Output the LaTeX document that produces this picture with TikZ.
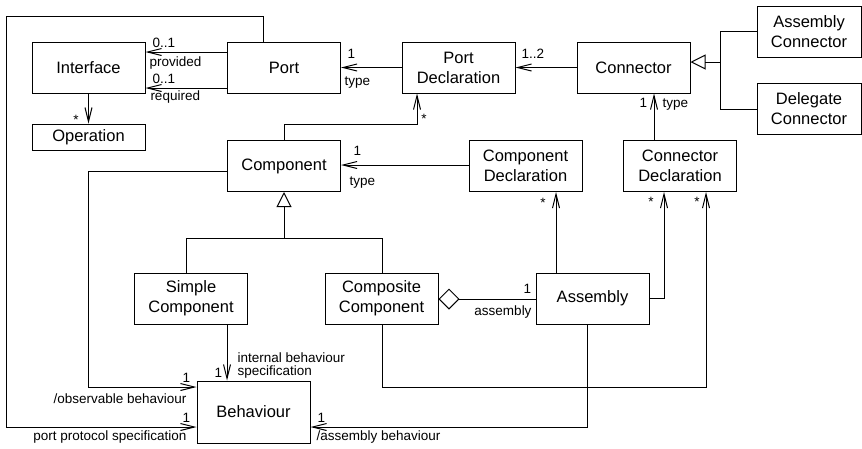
\documentclass[tikz,border=0pt]{standalone}
\usepackage{fontspec}
\setmainfont{Liberation Sans}
\usetikzlibrary{arrows.meta}
\begin{document}
\begin{tikzpicture}[x=1pt,y=-1pt,line width=1pt,
  box/.style={draw, line width=1pt, minimum width=113pt, minimum height=51pt, inner sep=0pt, align=center, font=\fontsize{16.5}{20}\selectfont},
  lbl/.style={inner sep=0pt, font=\fontsize{13.5}{15}\selectfont},
  nav/.style={-{Straight Barb[length=14pt,width=7pt]}},
  gen/.style={-{Triangle[open,length=15pt,width=15pt]}},
  agg/.style={-{Diamond[open,length=21pt,width=21pt]}}]
\useasboundingbox (0,0) rectangle (862,448);
% boxes
\node[box] (iface) at (88.5,67.5) {Interface};
\node[box] (port) at (284,67.5) {Port};
\node[box] (pdecl) at (458.5,67.5) {Port\\Declaration};
\node[box] (conn) at (633.5,67.5) {Connector};
\node[box, minimum width=104pt] (aconn) at (809,31.5) {Assembly\\Connector};
\node[box, minimum width=104pt] (dconn) at (809,109) {Delegate\\Connector};
\node[box, minimum height=26pt] (op) at (88.5,137) {Operation};
\node[box] (comp) at (284,166) {Component};
\node[box] (cdecl) at (525.5,166) {Component\\Declaration};
\node[box] (kdecl) at (680,166) {Connector\\Declaration};
\node[box] (simple) at (191,298.5) {Simple\\Component};
\node[box] (composite) at (381.5,298.5) {Composite\\Component};
\node[box] (asm) at (592.5,298.5) {Assembly};
\node[box, minimum height=62pt] (beh) at (253.5,412) {Behaviour};
% connectors
\draw[nav] (port.west |- 0,52) -- (iface.east |- 0,52);
\draw[nav] (port.west |- 0,88) -- (iface.east |- 0,88);
\draw[nav] (iface.south) -- (op.north);
\draw[nav] (pdecl.west) -- (port.east);
\draw[nav] (conn.west) -- (pdecl.east);
\draw[nav] (comp.north) |- (417,124) -- (pdecl.south -| 417,0);
\coordinate (g1) at (720,62);
\draw (aconn.west) -| (g1);
\draw (dconn.west) -| (g1);
\draw[gen] (g1) -- (conn.east |- g1);
\draw[nav] (kdecl.north -| 654,0) -- (conn.south -| 654,0);
\draw[nav] (cdecl.west |- 0,165) -- (comp.east |- 0,165);
\coordinate (g2) at (284,238);
\draw (simple.north -| 186,0) |- (g2);
\draw (composite.north -| 382,0) |- (g2);
\draw[gen] (g2) -- (comp.south);
\draw[nav] (comp.west |- 0,171) -| (88,387) -- (beh.west |- 0,387);
\draw[nav] (port.north -| 263,0) |- (6,16) |- (beh.west |- 0,427);
\draw[nav] (simple.south -| 227,0) -- (beh.north -| 227,0);
\draw[agg] (asm.west |- 0,299) -- (composite.east |- 0,299);
\draw[nav] (asm.north -| 556,0) -- (cdecl.south -| 556,0);
\draw[nav] (asm.east |- 0,298) -| (kdecl.south -| 664,0);
\draw[nav] (composite.south -| 382,0) |- (706,387) -- (kdecl.south -| 706,0);
\draw[nav] (asm.south -| 587,0) |- (beh.east |- 0,427);
% labels
\node[lbl, anchor=base west] (l1) at (152,47) {0..1};
\node[lbl, anchor=base west] (l2) at (149,66) {provided};
\node[lbl, anchor=base west] (l3) at (152,83) {0..1};
\node[lbl, anchor=base west] (l4) at (150,100) {required};
\node[lbl, anchor=base] (l5) at (76,124) {*};
\node[lbl, anchor=base west] (l6) at (347,58) {1};
\node[lbl, anchor=base west] (l7) at (344,85) {type};
\node[lbl, anchor=base west] (l8) at (521,58) {1..2};
\node[lbl, anchor=base] (l9) at (424,123) {*};
\node[lbl, anchor=base west] (l10) at (639,107) {1};
\node[lbl, anchor=base west] (l11) at (662,107) {type};
\node[lbl, anchor=base west] (l12) at (353,155) {1};
\node[lbl, anchor=base west] (l13) at (349,185) {type};
\node[lbl, anchor=base] (l14) at (543,207) {*};
\node[lbl, anchor=base] (l15) at (651,206) {*};
\node[lbl, anchor=base] (l16) at (697,206) {*};
\node[lbl, anchor=base west] (l17) at (523,293) {1};
\node[lbl, anchor=base east] (l18) at (532,315) {assembly};
\node[lbl, anchor=base west] (l19) at (237,362) {internal behaviour};
\node[lbl, anchor=base west] (l20) at (237,375) {specification};
\node[lbl, anchor=base west] (l21) at (214,377) {1};
\node[lbl, anchor=base west] (l22) at (182,382) {1};
\node[lbl, anchor=base east] (l23) at (187,403) {/observable behaviour};
\node[lbl, anchor=base west] (l24) at (182,422) {1};
\node[lbl, anchor=base east] (l25) at (187,440) {port protocol specification};
\node[lbl, anchor=base west] (l26) at (317,422) {1};
\node[lbl, anchor=base west] (l27) at (316,440) {/assembly behaviour};
\end{tikzpicture}
\end{document}
